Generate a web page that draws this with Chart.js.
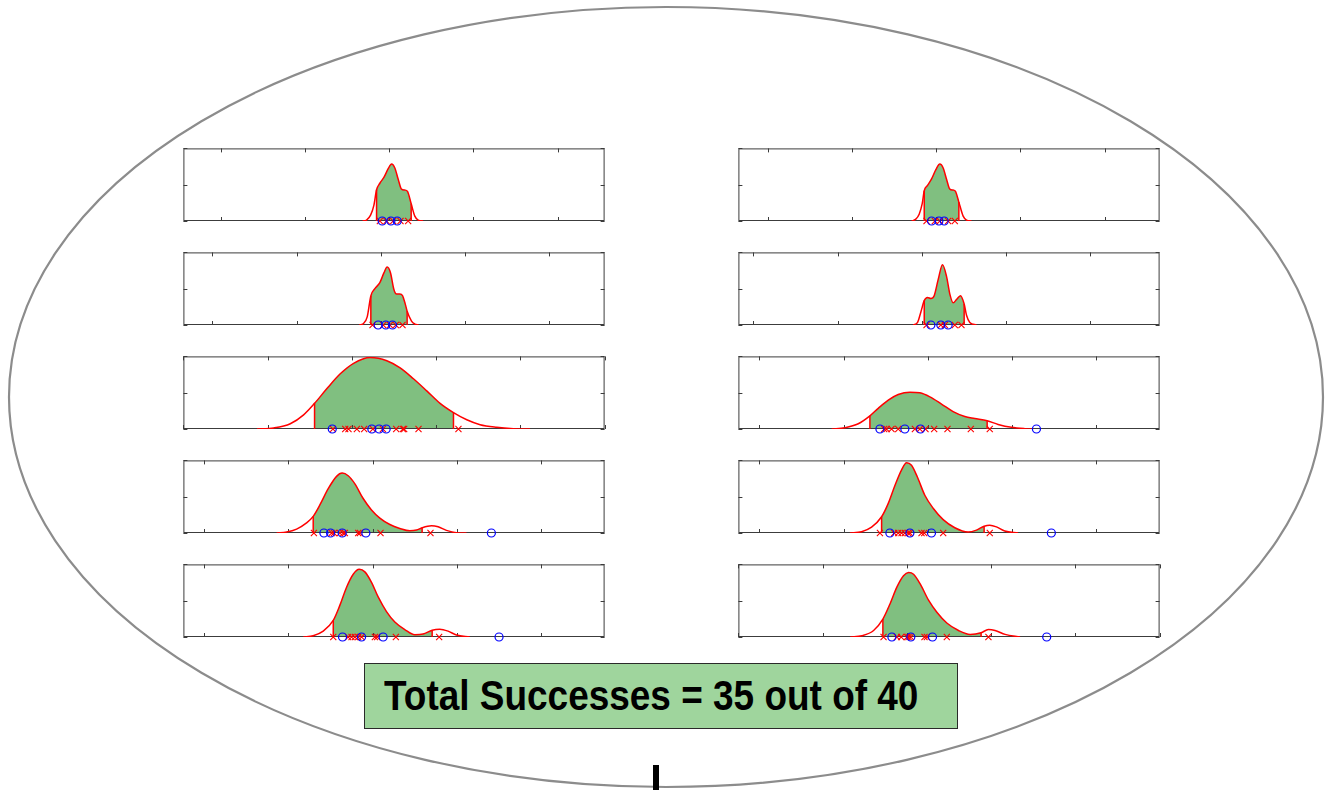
<!DOCTYPE html>
<html><head><meta charset="utf-8">
<script src="https://cdn.jsdelivr.net/npm/chart.js@4.4.0/dist/chart.umd.min.js"></script>
<style>
html,body{margin:0;padding:0;background:#fff;width:1325px;height:790px;overflow:hidden;}
#stage{position:relative;width:1325px;height:790px;}
canvas.p{position:absolute;}
#oval{position:absolute;left:0;top:0;}
#box{position:absolute;left:364px;top:663px;width:594px;height:66px;background:#9fd59d;border:1.5px solid #2a2a2a;box-sizing:border-box;}
#boxText{position:absolute;left:384px;top:675px;font:bold 42px "Liberation Sans",Arial,sans-serif;line-height:42px;color:#000;white-space:nowrap;transform:scaleX(0.88);transform-origin:0 0;}
#bar{position:absolute;left:653px;top:765px;width:6px;height:25px;background:#000;}
</style></head>
<body><div id="stage">
<svg id="oval" width="1325" height="790"><ellipse cx="666" cy="397" rx="657" ry="390" fill="none" stroke="#8c8c8c" stroke-width="2.2"/></svg>
<div id="box"></div>
<div id="boxText">Total Successes = 35 out of 40</div>
<div id="bar"></div>
</div>
<script>
// ---- data (x in tick-interval units, y as fraction of each panel's height) ----
const panelIds = ['L1','L2','L3','L4','L5','R1','R2','R3','R4','R5'];
const xMins = [-0.443,-0.344,-1.0,-0.245,-0.245,-0.348,-0.178,-0.249,-0.249,-1.0];
const xSpan = 5;
const yTicks = [0, 0.5, 1];

const curveXs = [
 [1.684,1.731,1.779,1.818,1.850,1.889,1.937,1.988,2.028,2.067,2.107,2.146,2.186,2.217,2.261,2.304,2.344,2.403],
 [1.743,1.791,1.838,1.881,1.929,1.988,2.036,2.075,2.115,2.154,2.186,2.225,2.257,2.289,2.312,2.364,2.403,2.447],
 [-0.126,0.071,0.269,0.427,0.557,0.704,0.862,1.020,1.217,1.415,1.573,1.731,1.889,2.047,2.206,2.364,2.522,2.719,2.917,3.115],
 [0.862,0.980,1.099,1.217,1.296,1.375,1.474,1.573,1.640,1.711,1.791,1.889,1.988,2.087,2.206,2.324,2.443,2.522,2.589,2.700,2.779,2.877,2.996,3.115],
 [1.178,1.296,1.415,1.534,1.613,1.692,1.771,1.842,1.909,1.988,2.067,2.166,2.265,2.383,2.502,2.601,2.708,2.798,2.897,2.996,3.154],
 [1.708,1.755,1.798,1.834,1.858,1.897,1.945,1.996,2.043,2.083,2.123,2.162,2.202,2.229,2.269,2.320,2.360,2.419],
 [1.897,1.949,1.988,2.028,2.067,2.107,2.146,2.194,2.245,2.292,2.332,2.372,2.411,2.458,2.502,2.530,2.569,2.648],
 [0.858,1.016,1.174,1.312,1.411,1.530,1.648,1.787,1.905,2.024,2.162,2.300,2.439,2.557,2.704,2.834,2.992,3.150,3.249],
 [1.075,1.213,1.332,1.451,1.530,1.609,1.688,1.747,1.806,1.877,1.964,2.063,2.182,2.320,2.478,2.577,2.668,2.735,2.814,2.913,3.071],
 [0.328,0.466,0.605,0.715,0.802,0.881,0.960,1.020,1.079,1.158,1.257,1.356,1.474,1.613,1.751,1.881,1.968,2.047,2.166,2.344]
];
const curveYs = [
 [0,0.013,0.08,0.215,0.43,0.52,0.60,0.72,0.785,0.731,0.574,0.439,0.426,0.408,0.238,0.067,0.013,0],
 [0,0.018,0.112,0.40,0.50,0.583,0.717,0.798,0.717,0.493,0.426,0.426,0.404,0.291,0.19,0.054,0.013,0],
 [0,0.014,0.072,0.195,0.353,0.557,0.76,0.905,0.986,0.941,0.842,0.692,0.525,0.353,0.226,0.127,0.059,0.023,0.005,0],
 [0,0.013,0.054,0.139,0.229,0.386,0.610,0.780,0.825,0.789,0.677,0.475,0.318,0.206,0.117,0.063,0.03,0.04,0.072,0.099,0.085,0.036,0.004,0],
 [0,0.018,0.081,0.229,0.439,0.686,0.865,0.933,0.897,0.753,0.552,0.350,0.206,0.103,0.03,0.04,0.094,0.108,0.081,0.027,0],
 [0,0.022,0.094,0.238,0.417,0.49,0.58,0.709,0.785,0.731,0.574,0.439,0.426,0.408,0.26,0.067,0.013,0],
 [0,0.036,0.179,0.336,0.38,0.365,0.404,0.628,0.830,0.673,0.426,0.305,0.350,0.404,0.29,0.135,0.036,0],
 [0,0.018,0.072,0.181,0.285,0.398,0.475,0.507,0.498,0.443,0.344,0.240,0.172,0.145,0.113,0.063,0.023,0.005,0],
 [0,0.018,0.081,0.224,0.408,0.654,0.870,0.969,0.933,0.767,0.520,0.341,0.184,0.072,0.013,0.04,0.094,0.108,0.085,0.027,0],
 [0,0.018,0.090,0.247,0.462,0.686,0.843,0.888,0.865,0.731,0.507,0.341,0.193,0.090,0.036,0.058,0.103,0.090,0.036,0]
];
const shadeLo = [1.850,1.881,0.557,1.296,1.534,1.858,2.028,1.312,1.451,0.715];
const shadeHi = [2.261,2.312,2.206,2.589,2.708,2.269,2.502,2.704,2.668,1.881];
const crossXs = [
 [1.889,1.968,2.047,2.134,2.225],
 [1.901,2.028,2.107,2.178,2.257],
 [0.775,0.921,0.960,1.059,1.146,1.249,1.368,1.526,1.605,1.621,1.791,2.265],
 [1.304,1.514,1.542,1.613,1.652,1.672,1.830,1.850,2.095,2.688],
 [1.534,1.711,1.751,1.791,1.830,1.870,2.028,2.055,2.277,2.791],
 [1.885,1.984,2.043,2.142,2.221],
 [2.055,2.225,2.273,2.391,2.470],
 [1.482,1.510,1.569,1.648,1.846,1.905,1.972,2.075,2.233,2.510,2.735],
 [1.431,1.601,1.648,1.688,1.727,1.767,1.787,1.925,1.957,2.182,2.735],
 [0.723,0.881,0.933,1.000,1.020,1.047,1.209,1.237,1.474,1.968]
];
const circleXs = [
 [1.917,2.020,2.095],
 [1.968,2.059,2.138],
 [0.767,1.237,1.324,1.407],
 [1.423,1.502,1.640,1.921,3.411],
 [1.644,1.870,2.126,3.502],
 [1.945,2.032,2.095],
 [2.107,2.225,2.312],
 [1.431,1.727,1.913,3.289],
 [1.549,1.787,2.043,3.466],
 [0.822,1.047,1.304,2.660]
];

// ---- layout ----
const colLeft = [178, 733];
const rowTop = [147, 251, 355, 459, 563];
const PAD = {top:4, bottom:10, left:5, right:5};
const AREA_W = 422, AREA_H = 74;

const framePlugin = {
  id: 'frame',
  afterDatasetDraw(chart, args) {
    if (args.index !== 0) return;
    const {ctx, chartArea: a} = chart;
    const x = chart.scales.x, y = chart.scales.y;
    ctx.save();
    ctx.strokeStyle = '#3c3c3c';
    ctx.lineWidth = 1;
    ctx.strokeRect(a.left + 0.5, a.top + 0.5, a.right - a.left - 1, a.bottom - a.top - 1);
    ctx.beginPath();
    const tl = 4;
    for (let v = Math.ceil(x.min - 1e-6); v <= x.max + 1e-6; v++) {
      const px = Math.round(x.getPixelForValue(v)) + 0.5;
      ctx.moveTo(px, a.bottom); ctx.lineTo(px, a.bottom - tl);
      ctx.moveTo(px, a.top); ctx.lineTo(px, a.top + tl);
    }
    yTicks.forEach(v => {
      const py = Math.round(y.getPixelForValue(v)) + 0.5;
      ctx.moveTo(a.left, py); ctx.lineTo(a.left + tl, py);
      ctx.moveTo(a.right, py); ctx.lineTo(a.right - tl, py);
    });
    ctx.stroke();
    ctx.restore();
  }
};

const stage = document.getElementById('stage');
panelIds.forEach((id, i) => {
  const col = i < 5 ? 0 : 1, row = i % 5;
  const cv = document.createElement('canvas');
  cv.className = 'p';
  cv.width = AREA_W + PAD.left + PAD.right;
  cv.height = AREA_H + PAD.top + PAD.bottom;
  cv.style.left = colLeft[col] + 'px';
  cv.style.top = (rowTop[row] - PAD.top) + 'px';
  stage.appendChild(cv);

  const cx = curveXs[i], cy = curveYs[i];
  const curve = cx.map((v, k) => ({x: v, y: cy[k]}));
  const lo = shadeLo[i], hi = shadeHi[i];
  const shade = curve.filter(p => p.x >= lo - 1e-6 && p.x <= hi + 1e-6);
  const yLo = curve.find(p => Math.abs(p.x - lo) < 1e-6).y;
  const yHi = curve.find(p => Math.abs(p.x - hi) < 1e-6).y;
  const red = '#ff0000';

  new Chart(cv, {
    type: 'line',
    data: {
      datasets: [
        {data: shade, fill: 'origin', backgroundColor: '#80bf80', borderWidth: 0, pointRadius: 0, cubicInterpolationMode: 'monotone', order: 5},
        {data: [{x: lo, y: 0}, {x: lo, y: yLo}], borderColor: red, borderWidth: 1.5, pointRadius: 0, fill: false, order: 4},
        {data: [{x: hi, y: 0}, {x: hi, y: yHi}], borderColor: red, borderWidth: 1.5, pointRadius: 0, fill: false, order: 3},
        {data: curve, borderColor: red, borderWidth: 1.5, pointRadius: 0, fill: false, cubicInterpolationMode: 'monotone', order: 2},
        {data: crossXs[i].map(v => ({x: v, y: 0})), showLine: false, pointStyle: 'crossRot', pointRadius: 4.3, borderColor: red, backgroundColor: red, pointBorderWidth: 1.1, clip: false, order: 1},
        {data: circleXs[i].map(v => ({x: v, y: 0})), showLine: false, pointStyle: 'circle', pointRadius: 4, borderColor: '#0000ff', backgroundColor: 'rgba(0,0,0,0)', pointBorderWidth: 1.2, clip: false, order: 0}
      ]
    },
    options: {
      responsive: false, animation: false, devicePixelRatio: 1, events: [],
      layout: {padding: PAD},
      plugins: {legend: {display: false}, tooltip: {enabled: false}},
      scales: {
        x: {type: 'linear', min: xMins[i], max: xMins[i] + xSpan, display: false},
        y: {type: 'linear', min: 0, max: 1, display: false}
      }
    },
    plugins: [framePlugin]
  });
});
</script>
</body></html>
